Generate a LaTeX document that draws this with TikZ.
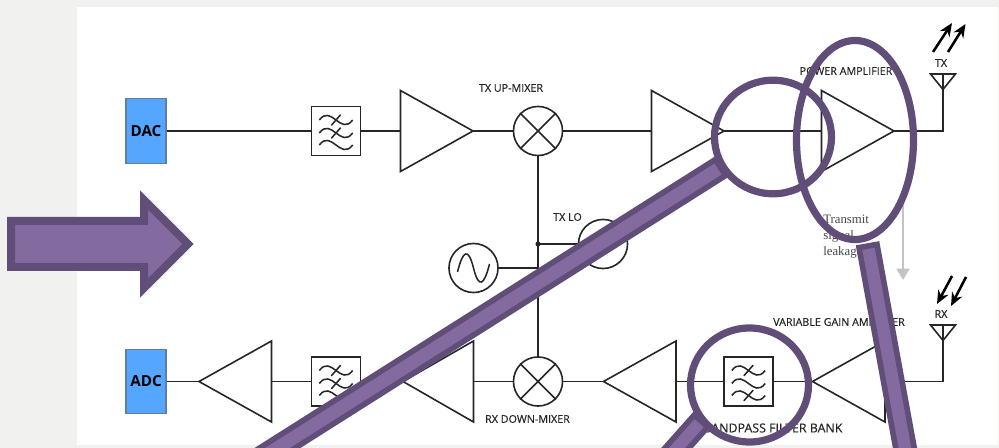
\documentclass[tikz,border=0pt]{standalone}
\usepackage{fontspec}
\setmainfont{Open Sans}
\newfontfamily\serifnote{Liberation Serif}
\newfontface\lblfont[FakeBold=0.35]{Open Sans}
\usetikzlibrary{arrows.meta}
\definecolor{pagegray}{HTML}{F1F1EF}
\definecolor{dacblue}{HTML}{55A6FF}
\definecolor{dacedge}{HTML}{5F7F9F}
\definecolor{ovfill}{HTML}{836B9F}
\definecolor{ovedge}{HTML}{604E78}
\definecolor{wirecol}{HTML}{262626}
\definecolor{leakgray}{HTML}{C4C4C4}
\tikzset{
  wire/.style={draw=wirecol,line width=1.2pt},
  conv/.style={draw=dacedge,fill=dacblue,line width=0.9pt,minimum width=30pt,minimum height=48.5pt,inner sep=0pt,font=\fontsize{11.4}{12}\selectfont\bfseries,text=black},
  fbox/.style={draw=wirecol,line width=1.2pt,fill=white,minimum size=36.5pt,inner sep=0pt},
  rnd/.style={draw=wirecol,line width=1.2pt,fill=white,circle,minimum size=36.8pt,inner sep=0pt},
  lbl/.style={font=\lblfont\fontsize{8.05}{9}\selectfont,text=wirecol,inner sep=0pt},
  beam/.style={-{Stealth[length=10pt,width=8.5pt]},draw=black,line width=1.9pt},
  overlay edge/.style={draw=ovedge,line width=5.4pt,miter limit=10},
  handle/.style={draw=ovedge,line width=4.2pt,fill=ovfill},
  bigarrow/.style={draw=ovedge,line width=6pt,fill=ovfill,miter limit=10}
}
% amp: name, base x, tip x, y
\newcommand{\ampsym}[4]{%
  \coordinate (#1b) at (#2,#4);
  \coordinate (#1t) at (#3,#4);
  \draw[wire,line join=miter] (#2,#4-40.5) -- (#3,#4) -- (#2,#4+40.5) -- cycle;
}
% filter waves with slashes: node name, list of slashed rows
\newcommand{\fwaves}[2]{%
  \foreach \r in {-11,2,14}{
    \draw[wirecol,line width=1.15pt] ([xshift=-12.5pt,yshift=\r*-0.75pt]#1.center)
      .. controls +(4.5pt,6pt) and +(-4pt,3pt) .. ([yshift=\r*-0.75pt]#1.center)
      .. controls +(4pt,-3pt) and +(-4.5pt,-6pt) .. ([xshift=12.5pt,yshift=\r*-0.75pt]#1.center);
  }
  \foreach \r in {#2}{
    \draw[wirecol,line width=1.15pt] ([xshift=-3.5pt,yshift=\r*-0.75pt-4pt]#1.center) -- ([xshift=3.5pt,yshift=\r*-0.75pt+4pt]#1.center);
  }
}
% antenna: name, y of top
\newcommand{\antsym}[2]{%
  \coordinate (#1) at (943,#2);
  \coordinate (#1a) at (943,#2+15.5);
  \draw[wire] (930.5,#2) -- (955.5,#2) -- (#1a) -- cycle;
}
\begin{document}
\begin{tikzpicture}[x=0.75pt,y=-0.75pt]
\useasboundingbox (0,0) rectangle (999,448);
\clip (0,0) rectangle (999,448);
\fill[pagegray] (0,0) rectangle (999,448);
\fill[white] (77,7) rectangle (998,445);

% TX chain
\node[conv] (dac) at (146,131) {\raisebox{-1.3pt}{DAC}};
\node[fbox] (f1) at (336,131) {};
\fwaves{f1}{-11,2}
\ampsym{a1}{400.5}{473}{131}
\node[rnd] (mx1) at (538,131) {};
\draw[wire] (mx1.north west) -- (mx1.south east) (mx1.north east) -- (mx1.south west);
\ampsym{a2}{651.5}{724}{131}
\ampsym{a3}{821.5}{894}{131}
\antsym{txant}{74}
\coordinate (txc) at (943,131);
\draw[wire] (dac.east) -- (f1.west);
\draw[wire] (f1.east) -- (a1b);
\draw[wire] (a1t) -- (mx1.west);
\draw[wire] (mx1.east) -- (a2b);
\draw[wire] (a2t) -- (a3b);
\draw[wire] (a3t) -- (txc) -- (txant);

% RX chain
\node[conv] (adc) at (146,381.5) {\raisebox{-1.3pt}{ADC}};
\ampsym{b1}{271.5}{199}{381.5}
\node[fbox] (f2) at (336,381.5) {};
\fwaves{f2}{-11,2}
\ampsym{b2}{473.5}{403}{381.5}
\node[rnd] (mx2) at (538,381.5) {};
\draw[wire] (mx2.north west) -- (mx2.south east) (mx2.north east) -- (mx2.south west);
\ampsym{b3}{676}{603.5}{381.5}
\node[fbox] (f3) at (748.5,381.5) {};
\fwaves{f3}{-11,14}
\ampsym{b4}{885}{812.5}{381.5}
\antsym{rxant}{325}
\coordinate (rxc) at (943,381.5);
\draw[wire] (adc.east) -- (b1t);
\draw[wire] (b1b) -- (f2.west);
\draw[wire] (f2.east) -- (b2t);
\draw[wire] (b2b) -- (mx2.west);
\draw[wire] (mx2.east) -- (b3t);
\draw[wire] (b3b) -- (f3.west);
\draw[wire] (f3.east) -- (b4t);
\draw[wire] (b4b) -- (rxc) -- (rxant);

% LO
\node[rnd] (lotx) at (603,244) {};
\node[rnd] (osc) at (473.5,268) {};
\draw[wirecol,line width=1.15pt] ([xshift=-12pt,yshift=-3pt]osc.center) .. controls +(4pt,16pt) and +(-4pt,16pt) .. (osc.center) .. controls +(4pt,-16pt) and +(-4pt,-16pt) .. ([xshift=12pt,yshift=3pt]osc.center);
\coordinate (jtx) at (538,244);
\coordinate (jrx) at (538,268);
\draw[wire] (mx1.south) -- (mx2.north);
\draw[wire] (jtx) -- (lotx.west);
\draw[wire] (osc.east) -- (jrx);
\fill[wirecol] (jtx) circle (1.9pt);

% Antenna beams
\coordinate (tb1) at (933,52); \coordinate (te1) at (952,23);
\coordinate (tb2) at (948,52); \coordinate (te2) at (965.5,24);
\coordinate (rb1) at (952,276); \coordinate (re1) at (937,304);
\coordinate (rb2) at (966,277); \coordinate (re2) at (951,306);
\draw[beam] (tb1) -- (te1);
\draw[beam] (tb2) -- (te2);
\draw[beam] (rb1) -- (re1);
\draw[beam] (rb2) -- (re2);

% Labels
\node[lbl] (l1) at (511,88) {TX UP-MIXER};
\node[lbl] (l2) at (846,71) {POWER AMPLIFIER};
\node[lbl] (l3) at (941,63) {TX};
\node[lbl] (l4) at (567.5,217) {TX LO};
\node[lbl] (l5) at (839,322) {VARIABLE GAIN AMPLIFIER};
\node[lbl] (l6) at (941,314) {RX};
\node[lbl] (l7) at (527.5,419) {RX DOWN-MIXER};
\node[lbl,font=\lblfont\fontsize{9.3}{10}\selectfont] (l8) at (773,428) {BANDPASS FILTER BANK};
\node[anchor=north west,inner sep=0pt,align=left,text=black!72,font=\serifnote\fontsize{9.6}{12.2}\selectfont] (l9) at (823,214.5) {Transmit\\signal\\leakage};

% Leakage arrow
\coordinate (lk1) at (903,205);
\coordinate (lk2) at (903,280);
\draw[draw=leakgray,line width=2.1pt,-{Triangle[length=8.5pt,width=9.5pt]}] (lk1) -- (lk2);

% Purple overlays
\draw[bigarrow,line join=miter] (11,221) -- (144,221) -- (144,200) -- (188,244) -- (144,288) -- (144,267) -- (11,267) -- cycle;
\draw[handle] (715.4,159.5) -- (725.6,175.5) -- (263.6,468) -- (253.4,452) -- cycle;
\draw[handle] (859,247.6) -- (877,244.4) -- (918,468.4) -- (900,471.6) -- cycle;
\draw[handle] (694.3,415) -- (707.7,427) -- (667.7,472) -- (654.3,460) -- cycle;
\draw[overlay edge] (773,137) ellipse [x radius=58.5,y radius=56.8];
\draw[overlay edge] (855,140) ellipse [x radius=58.5,y radius=99.5];
\draw[overlay edge] (749.5,385) ellipse [x radius=59,y radius=57];
\end{tikzpicture}
\end{document}
